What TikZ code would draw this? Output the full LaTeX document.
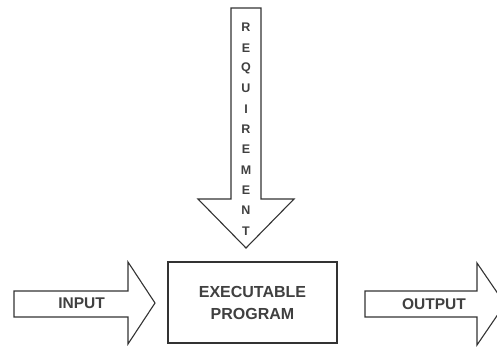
\documentclass[tikz,border=0pt]{standalone}
\usepackage{fontspec}
\setmainfont{Liberation Sans}
\usepackage{tikz}
\usetikzlibrary{positioning}

\begin{document}
\begin{tikzpicture}[x=1pt, y=-1pt,
			blockarrow/.style={draw=black!80, line width=1.1pt, fill=white, line join=miter},
			progbox/.style={draw=black!80, line width=1.1pt, fill=white, minimum width=169pt, minimum height=81pt, align=center, inner sep=0pt, font=\bfseries\fontsize{16}{22}\selectfont, text=black!75},
			arrowtext/.style={font=\bfseries\fontsize{15.5}{19}\selectfont, text=black!75, inner sep=0pt},
			vletter/.style={font=\bfseries\fontsize{12.5}{15}\selectfont, text=black!75, inner sep=0pt}
			]
			\useasboundingbox (0,0) rectangle (497,346);
			\clip (0,0) rectangle (497,346);
			
			% Requirement arrow from above
			\draw[blockarrow] (231,8) -- (261,8) -- (261,199) -- (294,199) -- (246,248)
				-- (198,199) -- (231,199) -- cycle;
			\foreach \ch [count=\i from 0] in {R,E,Q,U,I,R,E,M,E,N,T}
				\node[vletter] (req\i) at (246,27.5+20.35*\i) {\ch};
			
			% Input and output arrows
			\draw[blockarrow] (14,291) -- (128,291) -- (128,262) -- (155,303) -- (128,344)
				-- (128,317) -- (14,317) -- cycle;
			\draw[blockarrow] (365,291) -- (477,291) -- (477,263) -- (505,304) -- (477,345)
				-- (477,317) -- (365,317) -- cycle;
			\node[arrowtext] (input) at (81.5,303) {INPUT};
			\node[arrowtext] (output) at (434,304) {OUTPUT};
			
			% Program box
			\node[progbox] (prog) at (252.5,302.5) {EXECUTABLE\\PROGRAM};
		\end{tikzpicture}
\end{document}
